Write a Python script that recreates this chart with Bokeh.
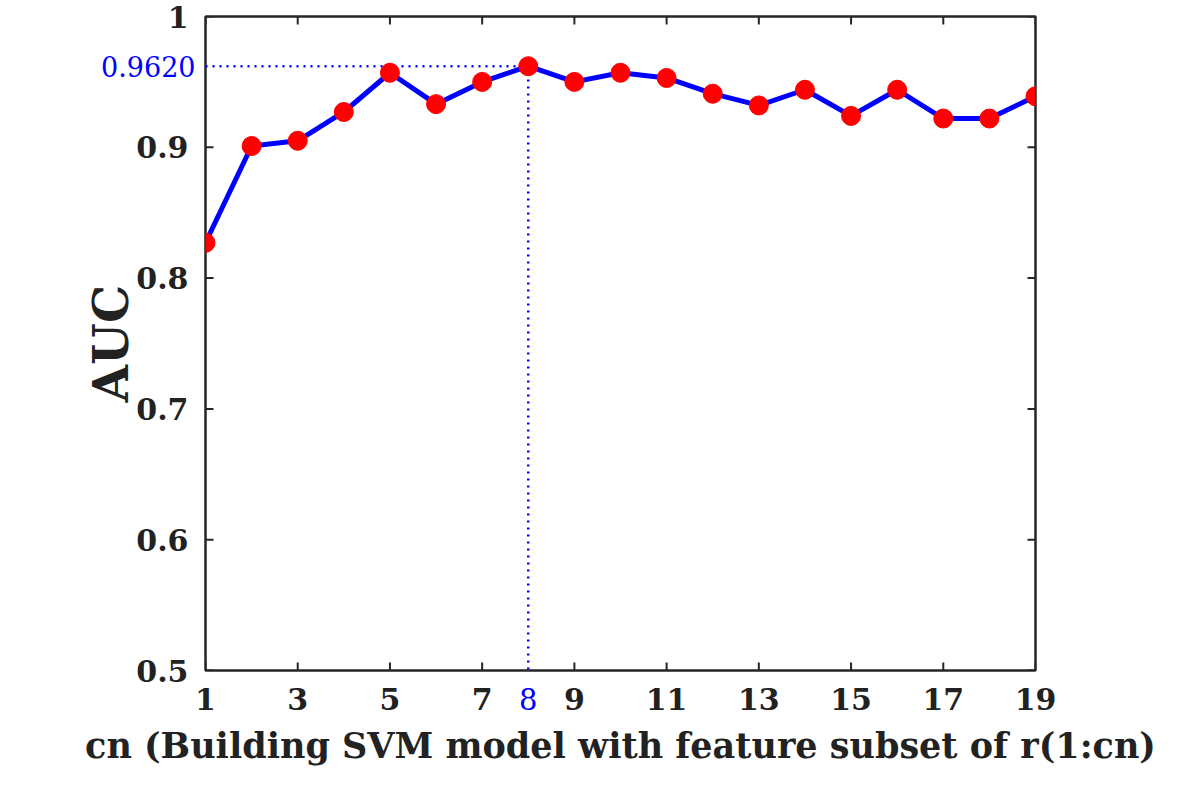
import math
from bokeh.plotting import figure
from bokeh.models import FixedTicker, LinearAxis, Range1d
from bokeh.embed import file_html
from bokeh.resources import INLINE

# Data
cn = list(range(1, 20))
auc = [0.827, 0.901, 0.905, 0.927, 0.957, 0.933, 0.950, 0.962, 0.950, 0.957,
       0.953, 0.941, 0.932, 0.944, 0.924, 0.944, 0.922, 0.922, 0.939]
best_cn = 8
best_auc = 0.962
x_ticks = [1, 3, 5, 7, 9, 11, 13, 15, 17, 19]
y_ticks = [0.5, 0.6, 0.7, 0.8, 0.9, 1.0]
x_title = "cn (Building SVM model with feature subset of r(1:cn)"
y_title = "AUC"

FONT = "DejaVu Serif"
AX = "#262626"
TXT = "#222222"
BLUE = "#0000ff"

p = figure(width=1165, height=769, output_backend="svg", toolbar_location=None,
           x_range=Range1d(x_ticks[0], x_ticks[-1]), y_range=Range1d(y_ticks[0], y_ticks[-1]),
           x_axis_location=None, y_axis_location=None,
           min_border_left=205, min_border_right=130, min_border_top=16,
           min_border_bottom=99)
p.xgrid.visible = False
p.ygrid.visible = False
p.outline_line_color = AX
p.outline_line_width = 2.5
p.background_fill_color = "white"
p.border_fill_color = "white"

# inward tick marks on all four sides (half of each dash is clipped by the frame)
for yy in (y_ticks[0], y_ticks[-1]):
    p.scatter(x_ticks, [yy] * len(x_ticks), marker="dash", angle=math.pi / 2,
              size=16, line_color=AX, line_width=2)
for xx in (x_ticks[0], x_ticks[-1]):
    p.scatter([xx] * len(y_ticks), y_ticks, marker="dash",
              size=16, line_color=AX, line_width=2)

# reference dotted lines
p.line([cn[0], best_cn, best_cn], [best_auc, best_auc, y_ticks[0]],
       line_color=BLUE, line_width=2.5, line_dash="2 5")

p.line(cn, auc, line_color=BLUE, line_width=5)
p.scatter(cn, auc, size=19, fill_color="#ff0000", line_color="#ff0000")


def make_axis(ticks, size, color, bold, standoff):
    ax = LinearAxis(ticker=FixedTicker(ticks=ticks))
    ax.axis_line_color = None
    ax.major_tick_line_color = None
    ax.minor_tick_line_color = None
    ax.major_tick_in = 0
    ax.major_tick_out = 0
    ax.major_label_text_font = FONT
    ax.major_label_text_font_style = "bold" if bold else "normal"
    ax.major_label_text_font_size = size
    ax.major_label_text_color = color
    ax.major_label_standoff = standoff
    ax.axis_label_text_font = FONT
    ax.axis_label_text_font_style = "bold"
    ax.axis_label_text_color = TXT
    return ax


# blue highlight labels sit in the first (innermost) axes
yb = make_axis([best_auc], "27px", BLUE, False, 10)
yb.major_label_overrides = {best_auc: f"{best_auc:.4f}"}
p.add_layout(yb, "left")
xb = make_axis([best_cn], "29px", BLUE, False, 17)
p.add_layout(xb, "below")

# main tick labels pulled back into the same row/column
ym = make_axis(y_ticks, "30px", TXT, True, -90)
ym.major_label_overrides = {1: "1"}
ym.axis_label = y_title
ym.axis_label_text_font_size = "48px"
ym.axis_label_standoff = -6
p.add_layout(ym, "left")

xm = make_axis(x_ticks, "30px", TXT, True, -25)
xm.axis_label = x_title
xm.axis_label_text_font_size = "35px"
xm.axis_label_standoff = 12
p.add_layout(xm, "below")

open("out.html", "w").write(file_html(p, INLINE))
